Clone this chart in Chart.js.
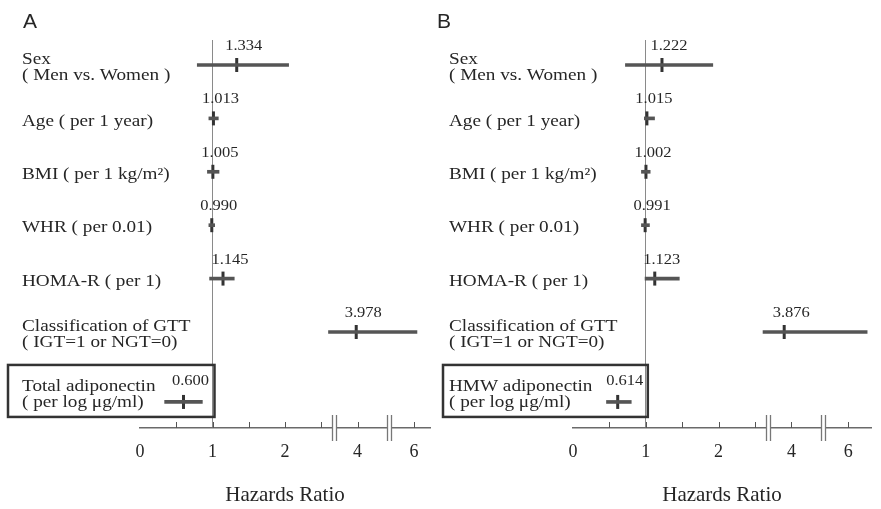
<!DOCTYPE html>
<html>
<head>
<meta charset="utf-8">
<script src="https://cdn.jsdelivr.net/npm/chart.js@4.4.1/dist/chart.umd.min.js"></script>
<style>
  html, body { margin: 0; padding: 0; background: #fff; }
  #wrap { position: relative; width: 881px; height: 509px; overflow: hidden; }
  #panelA { position: absolute; left: 0; top: 0; }
  #panelB { position: absolute; left: 434px; top: 0; }
</style>
</head>
<body>
<div id="wrap">
  <canvas id="panelA" width="440" height="509"></canvas>
  <canvas id="panelB" width="447" height="509"></canvas>
</div>
<script>
// rows, top to bottom (last row is the boxed adiponectin row)
const rowLabels = [
    ["Sex", "( Men vs. Women )"],
    ["Age ( per 1 year)"],
    ["BMI ( per 1 kg/m²)"],
    ["WHR ( per 0.01)"],
    ["HOMA-R ( per 1)"],
    ["Classification of GTT", "( IGT=1 or NGT=0)"]
];
const adipoLabelA = ["Total adiponectin", "( per log μg/ml)"];
const adipoLabelB = ["HMW adiponectin", "( per log μg/ml)"];

// hazards ratios and confidence limits
const hrA   = [1.334, 1.013, 1.005, 0.990, 1.145, 3.978, 0.600];
const lowA  = [0.79, 0.95, 0.93, 0.95, 0.96, 2.60, 0.34];
const highA = [2.05, 1.08, 1.09, 1.03, 1.30, 6.04, 0.86];

const hrB   = [1.222, 1.015, 1.002, 0.991, 1.123, 3.876, 0.614];
const lowB  = [0.72, 0.98, 0.94, 0.94, 0.99, 2.61, 0.46];
const highB = [1.92, 1.12, 1.06, 1.05, 1.46, 6.26, 0.80];

const tickValues = [0, 0.5, 1, 1.5, 2, 2.5, 4, 6];
const tickLabels = ["0", "", "1", "", "2", "", "4", "6"];

// the axis is broken twice: linear up to the first break, then a short window round 4, then one round 6
const BREAK1 = 2.68, BREAK2 = 3.43;
function toAxis(hr) {
    if (hr <= BREAK1) return hr;
    if (hr < 5) return Math.min(Math.max(3.0 + (hr - 4) * 0.8, BREAK1), BREAK2);
    return Math.max(3.78 + (hr - 6), BREAK2);
}

const BOXED = 6;
const rowPos = i => i + (i === BOXED ? 0.31 : 0);

const SERIF = '"Liberation Serif", "Times New Roman", serif';
const TEXT = '#262626';

function stretchText(ctx, text, x, y, sx, align) {
    ctx.save();
    ctx.translate(x, y);
    ctx.scale(sx, 1);
    ctx.textAlign = align;
    ctx.fillText(text, 0, 0);
    ctx.restore();
}

function buildPanel(canvasId, p) {
    const idx = p.hr.map((v, i) => i);

    const decor = {
        id: 'decor',
        afterDraw(chart) {
            const ctx = chart.ctx;
            const xs = chart.scales.x, ys = chart.scales.y;
            const axisY = chart.chartArea.bottom;

            ctx.save();
            ctx.fillStyle = TEXT;
            ctx.textBaseline = 'alphabetic';
            ctx.font = '21px "Liberation Sans", Arial, sans-serif';
            ctx.textAlign = 'left';
            ctx.fillText(p.letter, p.letterX, 28);

            // row labels
            ctx.font = '16px ' + SERIF;
            ctx.textBaseline = 'middle';
            const labels = rowLabels.concat([p.adipoLabel]);
            labels.forEach((lines, i) => {
                const y = ys.getPixelForValue(rowPos(i));
                const mid = y + (i === BOXED ? -7 : 3);
                lines.forEach((t, k) => {
                    stretchText(ctx, t, p.labelX, mid + (k - (lines.length - 1) / 2) * 16, 1.2, 'left');
                });
            });

            // box round the adiponectin row
            const by = ys.getPixelForValue(rowPos(BOXED));
            const bx2 = xs.getPixelForValue(toAxis(1)) + 2;
            ctx.strokeStyle = '#333';
            ctx.lineWidth = 2.5;
            ctx.strokeRect(p.boxLeft, by - 37, bx2 - p.boxLeft, 52);

            // value labels
            ctx.font = '15px ' + SERIF;
            p.hr.forEach((v, i) => {
                const x = xs.getPixelForValue(toAxis(v)) + 7;
                const y = ys.getPixelForValue(rowPos(i)) - (i === BOXED ? 21 : 19);
                stretchText(ctx, v.toFixed(3), x, y, 1.1, 'center');
            });

            // tick marks pointing up
            ctx.strokeStyle = '#555';
            ctx.lineWidth = 1;
            tickValues.forEach(v => {
                if (v === 0) return;
                const x = Math.round(xs.getPixelForValue(toAxis(v))) + 0.5;
                ctx.beginPath();
                ctx.moveTo(x, axisY);
                ctx.lineTo(x, axisY - 6);
                ctx.stroke();
            });

            // axis breaks
            [BREAK1, BREAK2].forEach(b => {
                const x = Math.round(xs.getPixelForValue(b));
                ctx.fillStyle = '#fff';
                ctx.fillRect(x - 1, axisY - 13, 3, 26);
                ctx.strokeStyle = '#777';
                ctx.lineWidth = 1.3;
                [x - 1.5, x + 2.5].forEach(lx => {
                    ctx.beginPath();
                    ctx.moveTo(lx, axisY - 13);
                    ctx.lineTo(lx, axisY + 13);
                    ctx.stroke();
                });
            });
            ctx.restore();
        }
    };

    return new Chart(document.getElementById(canvasId), {
        type: 'scatter',
        data: {
            datasets: [
                {
                    type: 'bar',
                    indexAxis: 'y',
                    data: idx.map(i => ({ x: [toAxis(p.low[i]), toAxis(p.high[i])], y: rowPos(i) })),
                    backgroundColor: '#555',
                    borderWidth: 0,
                    barThickness: 3
                },
                {
                    data: idx.map(i => ({ x: toAxis(p.hr[i]), y: rowPos(i) })),
                    pointStyle: 'line',
                    rotation: 90,
                    pointRadius: 7,
                    pointBorderWidth: 3,
                    pointBorderColor: '#333',
                    borderColor: '#333'
                }
            ]
        },
        options: {
            responsive: false,
            animation: false,
            layout: { padding: { left: p.left, right: p.right, top: 40, bottom: 0 } },
            plugins: {
                legend: { display: false },
                tooltip: { enabled: false }
            },
            scales: {
                x: {
                    type: 'linear',
                    min: 0,
                    max: p.max,
                    offset: false,
                    afterBuildTicks: s => { s.ticks = tickValues.map(v => ({ value: toAxis(v) })); },
                    afterFit: s => { s.height = 81; },
                    ticks: {
                        autoSkip: false,
                        maxRotation: 0,
                        padding: 13,
                        color: TEXT,
                        font: { family: SERIF, size: 18 },
                        callback: (v, i) => tickLabels[i]
                    },
                    grid: {
                        drawTicks: false,
                        lineWidth: 1,
                        color: c => (c.tick && Math.abs(c.tick.value - toAxis(1)) < 1e-6) ? '#8a8a8a' : 'rgba(0,0,0,0)'
                    },
                    border: { display: true, color: '#6a6a6a', width: 1.5 },
                    title: {
                        display: true,
                        text: 'Hazards Ratio',
                        color: TEXT,
                        font: { family: SERIF, size: 21 },
                        padding: { top: 0, bottom: 1 }
                    }
                },
                y: { type: 'linear', reverse: true, offset: false, min: -0.468, max: 6.798, display: false }
            }
        },
        plugins: [decor]
    });
}

buildPanel('panelA', {
    letter: 'A', letterX: 23, labelX: 22, boxLeft: 8,
    left: 140, right: 8, max: 4.0,
    hr: hrA, low: lowA, high: highA, adipoLabel: adipoLabelA
});

buildPanel('panelB', {
    letter: 'B', letterX: 3, labelX: 15, boxLeft: 9,
    left: 139, right: 1, max: 4.093,
    hr: hrB, low: lowB, high: highB, adipoLabel: adipoLabelB
});
</script>
</body>
</html>
